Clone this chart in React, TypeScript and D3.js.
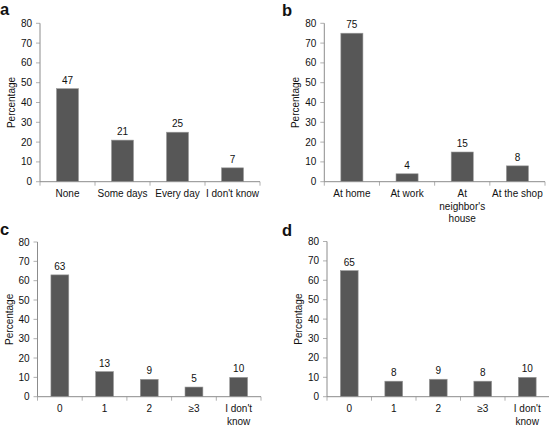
import React from "react";
import * as d3 from "d3";

const catsA = ["None", "Some days", "Every day", "I don't know"];
const valsA = [47, 21, 25, 7];
const catsB = ["At home", "At work", "At\nneighbor's\nhouse", "At the shop"];
const valsB = [75, 4, 15, 8];
const catsC = ["0", "1", "2", "≥3", "I don't\nknow"];
const valsC = [63, 13, 9, 5, 10];
const catsD = ["0", "1", "2", "≥3", "I don't\nknow"];
const valsD = [65, 8, 9, 8, 10];
const yTicks = [0, 10, 20, 30, 40, 50, 60, 70, 80];
const yTitle = "Percentage";

const FONT = "'Liberation Sans', Arial, sans-serif";

type PanelProps = {
  letter: string;
  cats: string[];
  vals: number[];
  x0: number;
  x1: number;
  yTop: number;
  yBot: number;
  letterX: number;
  letterY: number;
  titleX: number;
};

function Panel(p: PanelProps) {
  const x = d3.scaleBand<string>().domain(p.cats).range([p.x0, p.x1]).paddingInner(0.6).paddingOuter(0.3);
  const y = d3.scaleLinear().domain([0, 80]).range([p.yBot, p.yTop]);
  const step = (p.x1 - p.x0) / p.cats.length;
  const bounds = d3.range(p.cats.length + 1).map((i) => p.x0 + i * step);
  return (
    <g fontFamily={FONT}>
      <text x={p.letterX} y={p.letterY} fontSize={16.5} fontWeight="bold" fill="#111">
        {p.letter}
      </text>
      <text
        transform={`translate(${p.titleX},${(p.yTop + p.yBot) / 2}) rotate(-90)`}
        textAnchor="middle"
        fontSize={10}
        fill="#111"
      >
        {yTitle}
      </text>
      {yTicks.map((t) => (
        <g key={t}>
          <line x1={p.x0 - 4} x2={p.x0} y1={y(t)} y2={y(t)} stroke="#b0b0b0" strokeWidth={1} />
          <text x={p.x0 - 8} y={y(t) + 3.5} textAnchor="end" fontSize={10} fill="#111">
            {t}
          </text>
        </g>
      ))}
      {p.cats.map((c, i) => {
        const bx = x(c) as number;
        const bw = x.bandwidth();
        const v = p.vals[i];
        const lines = c.split("\n");
        const cx = p.x0 + (i + 0.5) * step;
        return (
          <g key={c + i}>
            <rect x={bx} y={y(v)} width={bw} height={p.yBot - y(v)} fill="#575757" stroke="#9a9a9a" strokeWidth={0.6} />
            <text x={bx + bw / 2} y={y(v) - 5} textAnchor="middle" fontSize={10} fill="#111">
              {v}
            </text>
            {lines.map((l, j) => (
              <text key={j} x={cx} y={p.yBot + 15.5 + j * 12.3} textAnchor="middle" fontSize={10} fill="#111">
                {l}
              </text>
            ))}
          </g>
        );
      })}
      {bounds.map((b, i) => (
        <line key={i} x1={b} x2={b} y1={p.yBot} y2={p.yBot + 4} stroke="#b0b0b0" strokeWidth={1} />
      ))}
      <line x1={p.x0} x2={p.x0} y1={p.yTop} y2={p.yBot} stroke="#8c8c8c" strokeWidth={1} />
      <line x1={p.x0} x2={p.x1} y1={p.yBot} y2={p.yBot} stroke="#8c8c8c" strokeWidth={1} />
    </g>
  );
}

export default function App() {
  return (
    <svg
      width={549}
      height={425}
      style={{ position: "absolute", left: 0, top: 0, background: "#fff" }}
    >
      <rect width={549} height={425} fill="#fff" />
      <Panel letter="a" cats={catsA} vals={valsA} x0={40} x1={260} yTop={23.3} yBot={181.7} letterX={0} letterY={15} titleX={15} />
      <Panel letter="b" cats={catsB} vals={valsB} x0={324.3} x1={545} yTop={23.3} yBot={181.7} letterX={282} letterY={15.5} titleX={299} />
      <Panel letter="c" cats={catsC} vals={valsC} x0={37.5} x1={261} yTop={242} yBot={396.7} letterX={0} letterY={234.5} titleX={13} />
      <Panel letter="d" cats={catsD} vals={valsD} x0={327} x1={549.5} yTop={241.5} yBot={396.7} letterX={282} letterY={235.5} titleX={302} />
    </svg>
  );
}
